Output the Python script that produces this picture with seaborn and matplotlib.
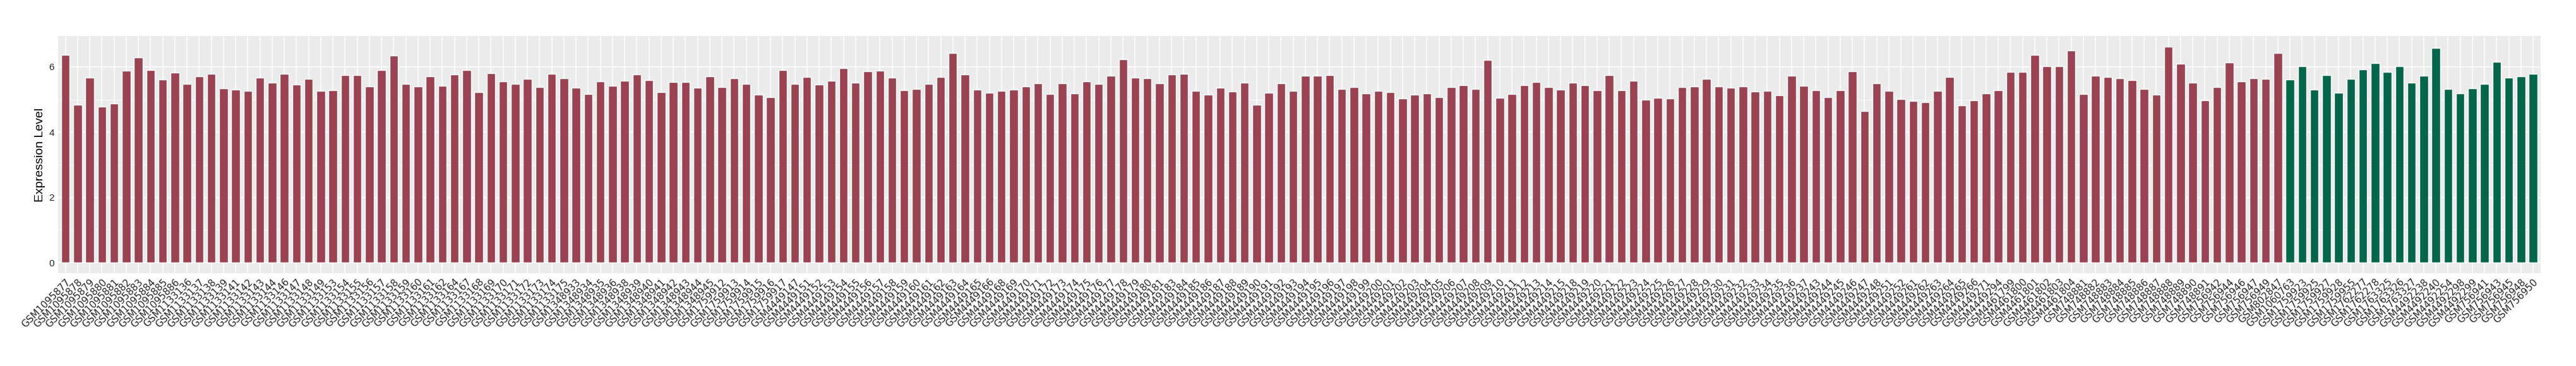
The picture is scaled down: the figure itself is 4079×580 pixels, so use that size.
import numpy as np
import pandas as pd
import matplotlib
matplotlib.use("Agg")
import matplotlib.pyplot as plt
from matplotlib.ticker import MultipleLocator
import seaborn as sns

# ─────────────────────────────────────────
# DATA
# ─────────────────────────────────────────

red_samples = [
    "GSM1095877", "GSM1095878", "GSM1095879", "GSM1095880", "GSM1095881",
    "GSM1095882", "GSM1095883", "GSM1095884", "GSM1095885", "GSM1095886",
    "GSM1133136", "GSM1133137", "GSM1133138", "GSM1133139", "GSM1133141",
    "GSM1133142", "GSM1133143", "GSM1133144", "GSM1133146", "GSM1133147",
    "GSM1133148", "GSM1133149", "GSM1133153", "GSM1133154", "GSM1133155",
    "GSM1133156", "GSM1133157", "GSM1133158", "GSM1133159", "GSM1133160",
    "GSM1133161", "GSM1133162", "GSM1133164", "GSM1133167", "GSM1133168",
    "GSM1133169", "GSM1133170", "GSM1133171", "GSM1133172", "GSM1133173",
    "GSM1133174", "GSM1133175",
    "GSM1348933", "GSM1348934", "GSM1348935", "GSM1348936", "GSM1348938",
    "GSM1348939", "GSM1348940", "GSM1348941", "GSM1348942", "GSM1348943",
    "GSM1348944", "GSM1348945",
    "GSM1759912", "GSM1759913", "GSM1759914", "GSM1759915", "GSM1759916",
    "GSM1759917",
    "GSM4449147", "GSM4449151", "GSM4449152", "GSM4449153", "GSM4449154",
    "GSM4449155", "GSM4449156", "GSM4449157", "GSM4449158", "GSM4449159",
    "GSM4449160", "GSM4449161", "GSM4449162", "GSM4449163", "GSM4449164",
    "GSM4449165", "GSM4449166", "GSM4449168", "GSM4449169", "GSM4449170",
    "GSM4449171", "GSM4449172", "GSM4449173", "GSM4449174", "GSM4449175",
    "GSM4449176", "GSM4449177", "GSM4449178", "GSM4449179", "GSM4449180",
    "GSM4449181", "GSM4449183", "GSM4449184", "GSM4449185", "GSM4449186",
    "GSM4449187", "GSM4449188", "GSM4449189", "GSM4449190", "GSM4449191",
    "GSM4449192", "GSM4449193", "GSM4449194", "GSM4449195", "GSM4449196",
    "GSM4449197", "GSM4449198", "GSM4449199", "GSM4449200", "GSM4449201",
    "GSM4449202", "GSM4449203", "GSM4449204", "GSM4449205", "GSM4449206",
    "GSM4449207", "GSM4449208", "GSM4449209", "GSM4449210", "GSM4449211",
    "GSM4449212", "GSM4449213", "GSM4449214", "GSM4449215", "GSM4449218",
    "GSM4449219", "GSM4449220", "GSM4449221", "GSM4449222", "GSM4449223",
    "GSM4449224", "GSM4449225", "GSM4449226", "GSM4449227", "GSM4449228",
    "GSM4449229", "GSM4449230", "GSM4449231", "GSM4449232", "GSM4449233",
    "GSM4449234", "GSM4449235", "GSM4449236", "GSM4449237", "GSM4449243",
    "GSM4449244", "GSM4449245", "GSM4449246", "GSM4449247", "GSM4449248",
    "GSM4449251", "GSM4449252", "GSM4449261", "GSM4449262", "GSM4449263",
    "GSM4449264", "GSM4449265", "GSM4449266", "GSM4449271", "GSM4449294",
    "GSM4461799", "GSM4461800", "GSM4461801", "GSM4461802", "GSM4461803",
    "GSM4461804",
    "GSM748881", "GSM748882", "GSM748883", "GSM748884", "GSM748885",
    "GSM748886", "GSM748887", "GSM748888", "GSM748889", "GSM748890",
    "GSM748891",
    "GSM756942", "GSM756944", "GSM756946", "GSM756947", "GSM756949",
    "GSM802847",
]

red_values = [
    6.36, 4.83, 5.66, 4.78, 4.88, 5.88, 6.29, 5.90, 5.61, 5.82,
    5.47, 5.71, 5.79, 5.34, 5.30, 5.26, 5.66, 5.51, 5.79, 5.46,
    5.63, 5.26, 5.28, 5.74, 5.74, 5.40, 5.90, 6.34, 5.47, 5.40,
    5.71, 5.41, 5.76, 5.90, 5.22, 5.80, 5.55, 5.47, 5.63, 5.38,
    5.79, 5.65,
    5.36, 5.16, 5.55, 5.41, 5.57, 5.76, 5.59, 5.22, 5.54, 5.54,
    5.36, 5.71,
    5.38, 5.65, 5.47, 5.14, 5.07, 5.90,
    5.47, 5.69, 5.46, 5.57, 5.96, 5.51, 5.86, 5.88, 5.66, 5.28,
    5.32, 5.47, 5.69, 6.42, 5.76, 5.30, 5.21, 5.26, 5.30, 5.40,
    5.49, 5.16, 5.49, 5.18, 5.55, 5.47, 5.73, 6.23, 5.66, 5.65,
    5.49, 5.76, 5.79, 5.26, 5.14, 5.36, 5.24, 5.51, 4.83, 5.21,
    5.49, 5.26, 5.73, 5.73, 5.74, 5.32, 5.38, 5.18, 5.26, 5.22,
    5.03, 5.14, 5.18, 5.07, 5.38, 5.44, 5.32, 6.21, 5.05, 5.16,
    5.44, 5.54, 5.38, 5.30, 5.51, 5.44, 5.28, 5.74, 5.28, 5.57,
    4.99, 5.05, 5.03, 5.38, 5.40, 5.63, 5.40, 5.36, 5.40, 5.24,
    5.26, 5.13, 5.73, 5.41, 5.28, 5.07, 5.28, 5.86, 4.64, 5.49,
    5.26, 5.01, 4.95, 4.91, 5.26, 5.69, 4.82, 4.97, 5.18, 5.28,
    5.84, 5.84, 6.36, 6.01, 6.01, 6.50,
    5.16, 5.73, 5.69, 5.65, 5.59, 5.32, 5.14, 6.62, 6.09, 5.51,
    4.97,
    5.38, 6.13, 5.55, 5.65, 5.63,
    6.42,
]

green_samples = [
    "GSM1060763", "GSM1759923", "GSM1759925", "GSM1759927", "GSM1759928",
    "GSM1759955", "GSM1762277", "GSM1762278", "GSM1763325", "GSM1763326",
    "GSM1763327", "GSM4492238", "GSM4492240", "GSM4492254", "GSM4492298",
    "GSM4492299", "GSM756941", "GSM756943", "GSM756945", "GSM756948",
    "GSM756950",
]

green_values = [
    5.61, 6.01, 5.30, 5.74, 5.21, 5.63, 5.92, 6.11, 5.84, 6.01,
    5.51, 5.73, 6.58, 5.32, 5.18, 5.34, 5.47, 6.15, 5.66, 5.71,
    5.79,
]

groups = ["Tumor", "Normal"]
group_colors = {"Tumor": "#9A4252", "Normal": "#03664A"}

df = pd.DataFrame({
    "sample": red_samples + green_samples,
    "value": red_values + green_values,
    "group": [groups[0]] * len(red_samples) + [groups[1]] * len(green_samples),
})

# ─────────────────────────────────────────
# PLOT
# ─────────────────────────────────────────

sns.set_theme(style="darkgrid")
plt.rcParams["font.family"] = ["Liberation Sans", "DejaVu Sans"]

fig = plt.figure(figsize=(40.8, 5.8), dpi=100)
ax = fig.add_axes([0.02255, 0.2529, 0.96341, 0.64934])
ax.set_facecolor("#EBEBEB")

sns.barplot(data=df, x="sample", y="value", hue="group",
            order=df["sample"], hue_order=groups, palette=group_colors,
            dodge=False, width=0.7, saturation=1, legend=False, ax=ax)

n = len(df)
ax.set_xlim(-0.6, n - 1 + 0.6)
ymax = df["value"].max()
ax.set_ylim(-0.05 * ymax, 1.05 * ymax)

# ggplot-like grid
ax.yaxis.set_major_locator(MultipleLocator(2))
ax.yaxis.set_minor_locator(MultipleLocator(1))
ax.set_axisbelow(True)
ax.grid(which="major", color="white", linewidth=1.1)
ax.grid(which="minor", axis="y", color="white", linewidth=0.55)
for spine in ax.spines.values():
    spine.set_visible(False)

ax.set_xlabel("")
ax.set_ylabel("Expression Level", fontsize=14, color="black", labelpad=4)
ax.tick_params(axis="y", which="major", length=2.2, width=0.8, color="#333333",
               labelsize=11, labelcolor="#222222", pad=2)
ax.tick_params(axis="y", which="minor", length=0)
ax.tick_params(axis="x", length=2.2, width=0.8, color="#333333", pad=2)
ax.set_xticks(range(n))
ax.set_xticklabels(df["sample"], rotation=45, ha="right", va="top",
                   rotation_mode="anchor", fontsize=10.9,
                   family="DejaVu Sans", color="#222222")

fig.savefig("out.png", dpi=100, facecolor="white")
